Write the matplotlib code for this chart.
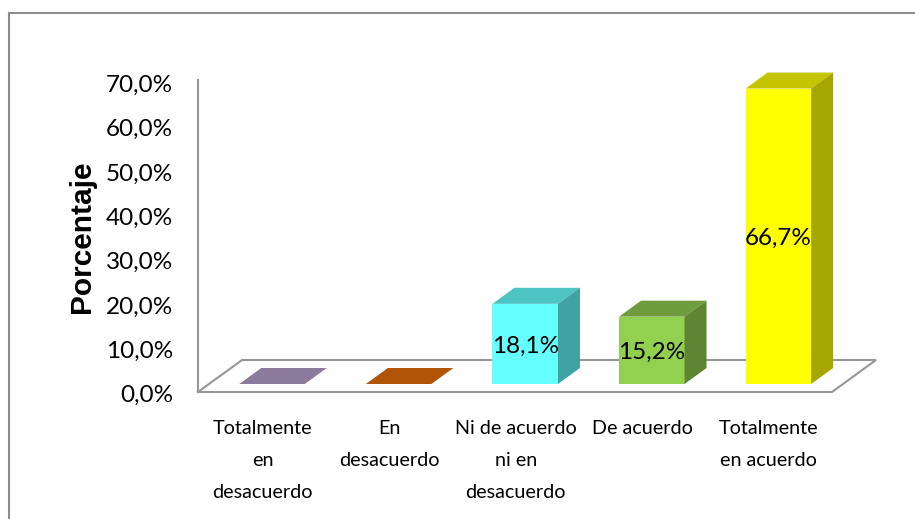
import matplotlib
matplotlib.use('Agg')
import matplotlib.pyplot as plt
from matplotlib.patches import Polygon
from matplotlib.lines import Line2D
from matplotlib.transforms import ScaledTranslation

categories = ['Totalmente\nen\ndesacuerdo', 'En\ndesacuerdo', 'Ni de acuerdo\nni en\ndesacuerdo',
              'De acuerdo', 'Totalmente\nen acuerdo']
values = [0.0, 0.0, 18.1, 15.2, 66.7]
value_labels = ['', '', '18,1%', '15,2%', '66,7%']
yticks = [0, 10, 20, 30, 40, 50, 60, 70]
ytick_labels = ['0,0%', '10,0%', '20,0%', '30,0%', '40,0%', '50,0%', '60,0%', '70,0%']

front = ['#8B7A9B', '#B05407', '#66FFFF', '#92D050', '#FFFF00']
top = ['#8B7A9B', '#B05407', '#4DC3C3', '#6F9C3D', '#C4C400']
side = ['#8B7A9B', '#B05407', '#3FA3A3', '#5F8533', '#A6A600']
grey = '#969696'

W, H = 915, 519
fig = plt.figure(figsize=(W / 100, H / 100), dpi=100)
ax = fig.add_axes([198 / W, (H - 392) / H, (876 - 198) / W, 312 / H])
ax.patch.set_alpha(0)

# pixels per unit, used for the fake 3d depth
px_x = 126.6
px_y = 4.43
xmin = -(262.5 - 198) / px_x
xmax = (876 - 262.5) / px_x
ax.set_xlim(xmin, xmax)
ax.set_ylim(0, 312 / px_y)

dx = 22 / px_x
dy = 16 / px_y
base = 8 / px_y
shift = 9.5 / px_x
width = 65.5 / px_x

# floor
floor_x = [xmin, xmin + 44 / px_x, xmax, xmax - 44 / px_x, xmin]
floor_y = [0, 32 / px_y, 32 / px_y, 0, 0]
ax.plot(floor_x, floor_y, color=grey, lw=1.5, clip_on=False, zorder=1, solid_joinstyle='miter')

x = [i + shift for i in range(len(values))]
ax.bar(x, values, width=width, bottom=base, color=front, zorder=3)
for i in range(len(values)):
    l = x[i] - width / 2
    r = x[i] + width / 2
    t = base + values[i]
    ax.add_patch(Polygon([(l, t), (l + dx, t + dy), (r + dx, t + dy), (r, t)],
                         facecolor=top[i], edgecolor='none', zorder=3, clip_on=False))
    if values[i] > 0:
        ax.add_patch(Polygon([(r, base), (r + dx, base + dy), (r + dx, t + dy), (r, t)],
                             facecolor=side[i], edgecolor='none', zorder=3, clip_on=False))
        ax.text(x[i], base + values[i] / 2 - 2.5 / px_y, value_labels[i], ha='center', va='center',
                fontsize=17.5, family='Lato', color='black', zorder=4)

for s in ['top', 'right', 'bottom']:
    ax.spines[s].set_visible(False)
ax.spines['left'].set_color(grey)
ax.spines['left'].set_linewidth(1.5)

ax.set_yticks(yticks)
ax.set_yticklabels(ytick_labels, fontsize=17.5, family='Lato', color='black')
ax.tick_params(axis='y', length=0, pad=18)
# labels sit a bit lower than the ticks in the original
down = ScaledTranslation(0, -1.5 / 100, fig.dpi_scale_trans)
for lab in ax.get_yticklabels():
    lab.set_transform(lab.get_transform() + down)
ax.set_xticks(range(len(categories)))
ax.set_xticklabels(categories, fontsize=14.2, family='Lato', color='black', linespacing=2.08)
ax.tick_params(axis='x', length=0, pad=20)

fig.text(82 / W, 1 - 237 / H, 'Porcentaje', rotation=90, ha='center', va='center',
         fontsize=21.5, fontweight='bold', family='Liberation Sans')

# chart frame
fig.add_artist(Line2D([9 / W, 9 / W], [0, 1 - 13 / H], color='#8c8c8c', lw=1.5))
fig.add_artist(Line2D([9 / W, 1], [1 - 13 / H, 1 - 13 / H], color='#8c8c8c', lw=1.5))

fig.savefig('out.png', dpi=100)
